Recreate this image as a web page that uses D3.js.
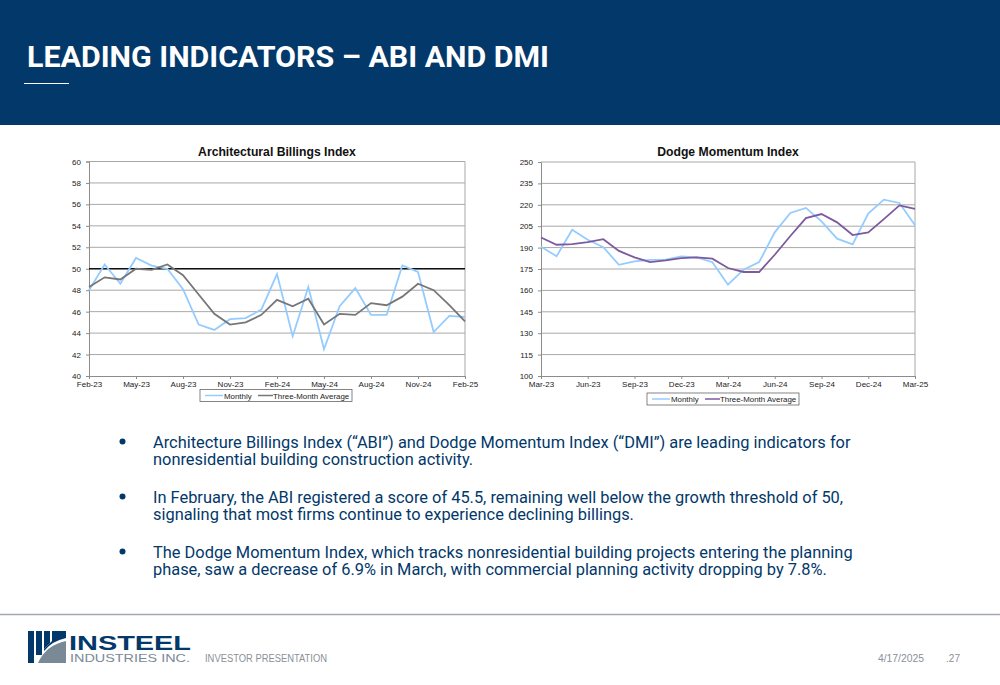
<!DOCTYPE html>
<html>
<head>
<meta charset="utf-8">
<script src="https://cdn.jsdelivr.net/npm/d3@7.9.0/dist/d3.min.js"></script>
<style>
  body { margin: 0; background: #fff; }
  svg { display: block; }
  .tick text { font-family: "Liberation Sans", Arial, sans-serif; }
</style>
</head>
<body>
<svg id="slide" width="1000" height="685"></svg>
<script>
// ABI data, Feb-23 .. Feb-25
const abiMonths = ["Feb-23","Mar-23","Apr-23","May-23","Jun-23","Jul-23","Aug-23","Sep-23","Oct-23","Nov-23","Dec-23","Jan-24",
  "Feb-24","Mar-24","Apr-24","May-24","Jun-24","Jul-24","Aug-24","Sep-24","Oct-24","Nov-24","Dec-24","Jan-25","Feb-25"];
const abiMonthly = [48.0,50.4,48.6,51.0,50.3,50.0,48.1,44.8,44.3,45.3,45.4,46.2,
  49.5,43.7,48.3,42.5,46.5,48.2,45.7,45.7,50.3,49.7,44.1,45.6,45.5];
const abiAvg = [48.3,49.2,49.0,50.0,49.9,50.4,49.4,47.6,45.8,44.8,45.0,45.7,
  47.1,46.5,47.2,44.8,45.8,45.7,46.8,46.6,47.4,48.6,48.0,46.6,45.1];
const abiTicks = [40,42,44,46,48,50,52,54,56,58,60];
const abiThreshold = 50;

// DMI data, Mar-23 .. Mar-25
const dmiMonths = ["Mar-23","Apr-23","May-23","Jun-23","Jul-23","Aug-23","Sep-23","Oct-23","Nov-23","Dec-23","Jan-24","Feb-24",
  "Mar-24","Apr-24","May-24","Jun-24","Jul-24","Aug-24","Sep-24","Oct-24","Nov-24","Dec-24","Jan-25","Feb-25","Mar-25"];
const dmiMonthly = [190.6,184.0,202.5,195.5,190.3,177.9,180.3,181.4,181.6,183.8,183.1,179.8,
  164.0,174.5,179.9,200.7,214.3,217.8,208.4,196.3,192.3,213.8,223.6,221.3,205.6];
const dmiAvg = [197.1,192.0,192.4,193.8,195.9,187.7,183.1,179.8,181.0,182.6,183.1,182.2,
  175.7,172.9,172.9,185.0,198.1,210.7,213.5,207.7,198.8,200.7,210.0,219.6,217.1];
const dmiTicks = [100,115,130,145,160,175,190,205,220,235,250];

const bullets = [
  ["Architecture Billings Index (\u201CABI\u201D) and Dodge Momentum Index (\u201CDMI\u201D) are leading indicators for",
   "nonresidential building construction activity."],
  ["In February, the ABI registered a score of 45.5, remaining well below the growth threshold of 50,",
   "signaling that most firms continue to experience declining billings."],
  ["The Dodge Momentum Index, which tracks nonresidential building projects entering the planning",
   "phase, saw a decrease of 6.9% in March, with commercial planning activity dropping by 7.8%."]
];

const navy = "#02386a";
const svg = d3.select("#slide");

// header band
svg.append("rect").attr("x", 0).attr("y", 0).attr("width", 1000).attr("height", 125).attr("fill", navy);
svg.append("text").attr("x", 27).attr("y", 67)
  .attr("fill", "#fff").attr("font-family", "Roboto, sans-serif").attr("font-weight", 700)
  .attr("font-size", 29).attr("textLength", 522).attr("lengthAdjust", "spacingAndGlyphs")
  .text("LEADING INDICATORS \u2013 ABI AND DMI");
svg.append("line").attr("x1", 24).attr("x2", 69).attr("y1", 83.5).attr("y2", 83.5)
  .attr("stroke", "#fff").attr("stroke-width", 1);

function drawChart(opt) {
  const g = svg.append("g");
  const x = d3.scalePoint().domain(opt.months).range([opt.left, opt.right]);
  const y = d3.scaleLinear().domain(d3.extent(opt.ticks)).range([opt.bottom, opt.top]);

  // gridlines
  g.selectAll(".grid").data(opt.ticks.slice(1)).join("line")
    .attr("x1", opt.left).attr("x2", opt.right)
    .attr("y1", d => y(d)).attr("y2", d => y(d))
    .attr("stroke", "#a8a8a8").attr("stroke-width", 1);
  g.append("line").attr("x1", opt.right).attr("x2", opt.right)
    .attr("y1", opt.top).attr("y2", opt.bottom).attr("stroke", "#a8a8a8");

  // y axis
  const yAxis = d3.axisLeft(y).tickValues(opt.ticks).tickSize(3).tickPadding(5);
  const ya = g.append("g").attr("transform", `translate(${opt.left},0)`).call(yAxis);
  // x axis
  const xAxis = d3.axisBottom(x).tickValues(opt.months.filter((d, i) => i % 3 === 0))
    .tickSize(3).tickPadding(2);
  const xa = g.append("g").attr("transform", `translate(0,${opt.bottom})`).call(xAxis);
  [ya, xa].forEach(a => {
    a.select(".domain").attr("stroke", "#8c8c8c");
    a.selectAll(".tick line").attr("stroke", "#8c8c8c");
    a.selectAll(".tick text").attr("font-size", 8).attr("fill", "#222");
  });

  if (opt.threshold != null) {
    g.append("line").attr("x1", opt.left).attr("x2", opt.right)
      .attr("y1", y(opt.threshold)).attr("y2", y(opt.threshold))
      .attr("stroke", "#111").attr("stroke-width", 1.6);
  }

  const line = d3.line().x((d, i) => x(opt.months[i])).y(d => y(d));
  g.append("path").datum(opt.monthly).attr("d", line)
    .attr("fill", "none").attr("stroke", "#94ccff").attr("stroke-width", 1.8);
  g.append("path").datum(opt.avg).attr("d", line)
    .attr("fill", "none").attr("stroke", opt.avgColor).attr("stroke-width", 1.8);

  // title
  g.append("text").attr("x", (opt.left + opt.right) / 2).attr("y", opt.top - 6)
    .attr("text-anchor", "middle").attr("font-family", "'Liberation Sans', Arial, sans-serif")
    .attr("font-weight", 700).attr("font-size", 12.2).attr("fill", "#111").text(opt.title);

  // legend
  const lg = g.append("g").attr("transform", `translate(${opt.legendX},${opt.legendY})`);
  lg.append("rect").attr("width", 152).attr("height", 12).attr("fill", "#fff")
    .attr("stroke", "#666").attr("stroke-width", 0.8);
  lg.append("line").attr("x1", 5).attr("x2", 23).attr("y1", 6).attr("y2", 6)
    .attr("stroke", "#94ccff").attr("stroke-width", 1.5);
  lg.append("text").attr("x", 24).attr("y", 9).attr("font-size", 7.9)
    .attr("font-family", "'Liberation Sans', Arial, sans-serif").attr("fill", "#222").text("Monthly");
  lg.append("line").attr("x1", 58).attr("x2", 73).attr("y1", 6).attr("y2", 6)
    .attr("stroke", opt.avgColor).attr("stroke-width", 1.5);
  lg.append("text").attr("x", 73).attr("y", 9).attr("font-size", 7.9)
    .attr("font-family", "'Liberation Sans', Arial, sans-serif").attr("fill", "#222").text("Three-Month Average");
}

drawChart({
  title: "Architectural Billings Index", months: abiMonths, monthly: abiMonthly, avg: abiAvg,
  ticks: abiTicks, threshold: abiThreshold, avgColor: "#767676",
  left: 89, right: 465, top: 161.5, bottom: 376, legendX: 200, legendY: 389.5
});
drawChart({
  title: "Dodge Momentum Index", months: dmiMonths, monthly: dmiMonthly, avg: dmiAvg,
  ticks: dmiTicks, threshold: null, avgColor: "#7d5a9e",
  left: 541, right: 915, top: 162, bottom: 376, legendX: 647, legendY: 393
});

// bullets
const bl = svg.append("g");
bullets.forEach((b, i) => {
  const y0 = 447.5 + i * 55;
  bl.append("circle").attr("cx", 122.5).attr("cy", y0 - 6).attr("r", 3).attr("fill", navy);
  b.forEach((t, j) => {
    bl.append("text").attr("x", 153).attr("y", y0 + j * 17)
      .attr("font-family", "Roboto, sans-serif").attr("font-size", 16.4)
      .attr("fill", navy).text(t);
  });
});

// footer
svg.append("line").attr("x1", 0).attr("x2", 1000).attr("y1", 614.5).attr("y2", 614.5)
  .attr("stroke", "#a3a8ae").attr("stroke-width", 1.5);
const logo = svg.append("g");
logo.append("rect").attr("x", 28).attr("y", 631).attr("width", 6).attr("height", 32).attr("fill", navy);
logo.append("rect").attr("x", 36).attr("y", 631).attr("width", 6).attr("height", 24).attr("fill", navy);
logo.append("path").attr("d", "M44,631 L50,631 L50,643 L44,649 Z").attr("fill", navy);
logo.append("path").attr("d", "M52,631 L66,631 L66,638 Q52,641 44,651 L44,649 L52,641 Z").attr("fill", navy);
logo.append("path").attr("d", "M38,663 Q46,645 66,641 L66,663 Z").attr("fill", "#7a8996");
logo.append("text").attr("x", 69).attr("y", 650).attr("font-family", "'Liberation Sans', Arial, sans-serif")
  .attr("font-weight", 700).attr("font-size", 21).attr("fill", navy)
  .attr("textLength", 122).attr("lengthAdjust", "spacingAndGlyphs").text("INSTEEL");
logo.append("text").attr("x", 70).attr("y", 662).attr("font-family", "'Liberation Sans', Arial, sans-serif")
  .attr("font-size", 11).attr("fill", "#7a8996")
  .attr("textLength", 120).attr("lengthAdjust", "spacingAndGlyphs").text("INDUSTRIES INC.");
const ft = svg.append("g");
[["INVESTOR PRESENTATION", 205, 122], ["4/17/2025", 878, 46], [".27", 946, 14]].forEach(([t, xp, w]) => {
  ft.append("text").attr("x", xp).attr("y", 662).text(t)
    .attr("font-family", "'Liberation Sans', sans-serif").attr("font-size", 10).attr("fill", "#8a9198")
    .attr("textLength", w).attr("lengthAdjust", "spacingAndGlyphs");
});
</script>
</body>
</html>
